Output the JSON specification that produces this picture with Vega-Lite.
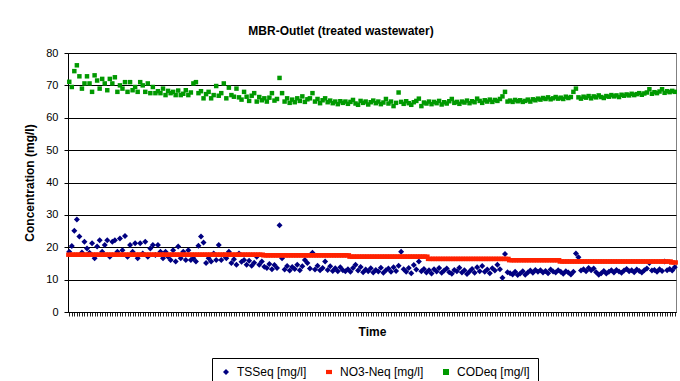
{
"$schema": "https://vega.github.io/schema/vega-lite/v6.json",
"width": 608, "height": 259,
"autosize": {"type": "none"},
"padding": {"left": 68, "top": 53, "right": 4, "bottom": 69},
"background": "white",
"config": {"font": "Liberation Sans", "view": {"stroke": "#808080", "strokeWidth": 1}},
"title": {"text": "MBR-Outlet (treated wastewater)", "fontSize": 12, "font": "Liberation Sans", "fontWeight": "bold", "anchor": "middle", "frame": "group", "dx": -31, "offset": 9, "color": "black"},
"data": {"values": [
{"t":0,"a":18.6,"b":17.7,"c":71.1},{"t":1,"a":20.4,"b":17.7,"c":69.5},{"t":2,"a":25.1,"b":17.7,"c":74.4},{"t":3,"a":28.6,"b":17.7,"c":76.2},{"t":4,"a":23.3,"b":17.7,"c":72.8},{"t":5,"a":18.4,"b":17.7,"c":69.0},{"t":6,"a":21.7,"b":17.7,"c":70.6},{"t":7,"a":19.6,"b":17.7,"c":72.8},{"t":8,"a":18.3,"b":17.7,"c":70.6},{"t":9,"a":21.2,"b":17.7,"c":68.0},
{"t":10,"a":16.6,"b":17.7,"c":73.1},{"t":11,"a":20.2,"b":17.7,"c":71.5},{"t":12,"a":22.2,"b":17.7,"c":69.0},{"t":13,"a":18.6,"b":17.7,"c":72.0},{"t":14,"a":20.7,"b":17.7,"c":70.6},{"t":15,"a":22.2,"b":17.7,"c":68.5},{"t":16,"a":17.1,"b":17.7,"c":72.0},{"t":17,"a":21.7,"b":17.7,"c":70.6},{"t":18,"a":22.2,"b":17.7,"c":72.5},{"t":19,"a":18.6,"b":17.7,"c":68.0},
{"t":20,"a":22.7,"b":17.7,"c":70.0},{"t":21,"a":19.1,"b":17.7,"c":69.0},{"t":22,"a":23.5,"b":17.7,"c":71.0},{"t":23,"a":17.1,"b":17.7,"c":68.0},{"t":24,"a":20.7,"b":17.7,"c":71.0},{"t":25,"a":18.6,"b":17.7,"c":68.5},{"t":26,"a":21.2,"b":17.7,"c":69.5},{"t":27,"a":16.6,"b":17.7,"c":68.0},{"t":28,"a":21.2,"b":17.7,"c":71.0},{"t":29,"a":18.1,"b":17.7,"c":70.0},
{"t":30,"a":21.7,"b":17.7,"c":68.0},{"t":31,"a":17.1,"b":17.7,"c":70.6},{"t":32,"a":19.6,"b":17.7,"c":67.6},{"t":33,"a":20.7,"b":17.7,"c":69.5},{"t":34,"a":17.6,"b":17.7,"c":67.6},{"t":35,"a":20.7,"b":17.7,"c":68.2},{"t":36,"a":18.6,"b":17.7,"c":67.6},{"t":37,"a":16.6,"b":17.7,"c":69.0},{"t":38,"a":18.6,"b":17.7,"c":67.0},{"t":39,"a":17.1,"b":17.7,"c":68.3},
{"t":40,"a":16.1,"b":17.7,"c":67.6},{"t":41,"a":19.1,"b":17.7,"c":68.0},{"t":42,"a":15.6,"b":17.7,"c":67.0},{"t":43,"a":20.2,"b":17.7,"c":68.4},{"t":44,"a":16.6,"b":17.7,"c":67.0},{"t":45,"a":18.6,"b":17.7,"c":67.4},{"t":46,"a":16.1,"b":17.7,"c":68.5},{"t":47,"a":19.1,"b":17.7,"c":67.0},{"t":48,"a":16.1,"b":17.7,"c":67.8},{"t":49,"a":16.6,"b":17.7,"c":70.6},
{"t":50,"a":15.6,"b":17.7,"c":71.0},{"t":51,"a":20.5,"b":17.7,"c":67.6},{"t":52,"a":23.3,"b":17.7,"c":68.2},{"t":53,"a":21.5,"b":17.7,"c":66.0},{"t":54,"a":15.1,"b":17.7,"c":67.3},{"t":55,"a":16.6,"b":17.7,"c":68.0},{"t":56,"a":15.6,"b":17.7,"c":66.0},{"t":57,"a":18.1,"b":17.7,"c":67.0},{"t":58,"a":16.1,"b":17.7,"c":69.8},{"t":59,"a":20.7,"b":17.7,"c":66.8},
{"t":60,"a":16.1,"b":17.7,"c":67.6},{"t":61,"a":17.5,"b":17.7,"c":70.6},{"t":62,"a":16.6,"b":17.7,"c":66.0},{"t":63,"a":18.6,"b":17.7,"c":69.3},{"t":64,"a":15.1,"b":17.7,"c":67.0},{"t":65,"a":16.3,"b":17.7,"c":66.5},{"t":66,"a":14.6,"b":17.7,"c":69.0},{"t":67,"a":18.1,"b":17.7,"c":66.3},{"t":68,"a":15.5,"b":17.7,"c":65.6},{"t":69,"a":16.1,"b":17.7,"c":68.0},
{"t":70,"a":14.6,"b":17.7,"c":66.5},{"t":71,"a":15.8,"b":17.7,"c":65.2},{"t":72,"a":14.3,"b":17.7,"c":66.8},{"t":73,"a":15.2,"b":17.7,"c":67.6},{"t":74,"a":17.1,"b":17.7,"c":65.0},{"t":75,"a":14.6,"b":17.7,"c":66.4},{"t":76,"a":15.6,"b":17.7,"c":65.4},{"t":77,"a":14.0,"b":17.5,"c":66.0},{"t":78,"a":13.6,"b":17.5,"c":65.0},{"t":79,"a":14.8,"b":17.5,"c":66.2},
{"t":80,"a":13.2,"b":17.5,"c":67.6},{"t":81,"a":14.5,"b":17.5,"c":65.3},{"t":82,"a":13.6,"b":17.5,"c":65.8},{"t":83,"a":26.8,"b":17.5,"c":72.3},{"t":84,"a":16.6,"b":17.5,"c":67.6},{"t":85,"a":13.1,"b":17.5,"c":65.0},{"t":86,"a":14.2,"b":17.5,"c":66.0},{"t":87,"a":12.8,"b":17.5,"c":64.6},{"t":88,"a":13.9,"b":17.5,"c":65.6},{"t":89,"a":13.3,"b":17.5,"c":64.8},
{"t":90,"a":14.6,"b":17.5,"c":66.0},{"t":91,"a":12.9,"b":17.5,"c":65.2},{"t":92,"a":14.1,"b":17.5,"c":66.6},{"t":93,"a":16.1,"b":17.5,"c":64.9},{"t":94,"a":15.1,"b":17.5,"c":65.7},{"t":95,"a":13.4,"b":17.5,"c":66.0},{"t":96,"a":18.3,"b":17.5,"c":67.6},{"t":97,"a":13.1,"b":17.5,"c":65.0},{"t":98,"a":14.3,"b":17.5,"c":65.8},{"t":99,"a":12.9,"b":17.5,"c":64.5},
{"t":100,"a":13.6,"b":17.5,"c":65.4},{"t":101,"a":15.6,"b":17.5,"c":66.0},{"t":102,"a":13.0,"b":17.5,"c":64.8},{"t":103,"a":14.1,"b":17.5,"c":65.3},{"t":104,"a":12.7,"b":17.5,"c":64.5},{"t":105,"a":13.5,"b":17.5,"c":65.0},{"t":106,"a":12.6,"b":17.5,"c":64.2},{"t":107,"a":13.8,"b":17.5,"c":65.1},{"t":108,"a":12.9,"b":17.5,"c":64.6},{"t":109,"a":12.6,"b":17.5,"c":65.0},
{"t":110,"a":13.2,"b":17.5,"c":64.3},{"t":111,"a":12.4,"b":17.1,"c":64.9},{"t":112,"a":13.6,"b":17.1,"c":65.5},{"t":113,"a":14.6,"b":17.1,"c":64.4},{"t":114,"a":12.8,"b":17.1,"c":64.0},{"t":115,"a":13.9,"b":17.1,"c":65.2},{"t":116,"a":12.3,"b":17.1,"c":64.6},{"t":117,"a":13.1,"b":17.1,"c":65.0},{"t":118,"a":12.6,"b":17.1,"c":64.1},{"t":119,"a":13.5,"b":17.1,"c":64.8},
{"t":120,"a":12.2,"b":17.1,"c":65.3},{"t":121,"a":13.0,"b":17.1,"c":64.5},{"t":122,"a":12.5,"b":17.1,"c":65.0},{"t":123,"a":13.7,"b":17.1,"c":64.2},{"t":124,"a":12.1,"b":17.1,"c":64.7},{"t":125,"a":12.9,"b":17.1,"c":65.8},{"t":126,"a":13.4,"b":17.1,"c":64.4},{"t":127,"a":12.4,"b":17.1,"c":65.0},{"t":128,"a":13.8,"b":17.1,"c":63.6},{"t":129,"a":12.7,"b":17.1,"c":64.6},
{"t":130,"a":14.3,"b":17.1,"c":67.8},{"t":131,"a":18.6,"b":17.1,"c":64.9},{"t":132,"a":13.2,"b":17.1,"c":64.3},{"t":133,"a":12.4,"b":17.1,"c":65.1},{"t":134,"a":13.6,"b":17.1,"c":64.5},{"t":135,"a":12.0,"b":17.1,"c":64.0},{"t":136,"a":14.5,"b":17.1,"c":64.8},{"t":137,"a":13.1,"b":17.1,"c":65.2},{"t":138,"a":15.6,"b":17.1,"c":65.9},{"t":139,"a":12.6,"b":17.1,"c":63.6},
{"t":140,"a":13.3,"b":17.1,"c":64.7},{"t":141,"a":12.2,"b":17.1,"c":64.4},{"t":142,"a":12.9,"b":16.4,"c":65.0},{"t":143,"a":11.9,"b":16.4,"c":64.2},{"t":144,"a":13.2,"b":16.4,"c":64.9},{"t":145,"a":12.5,"b":16.4,"c":64.5},{"t":146,"a":13.6,"b":16.4,"c":65.2},{"t":147,"a":12.1,"b":16.4,"c":64.1},{"t":148,"a":12.8,"b":16.4,"c":64.8},{"t":149,"a":13.4,"b":16.4,"c":64.4},
{"t":150,"a":12.3,"b":16.4,"c":65.1},{"t":151,"a":11.8,"b":16.4,"c":65.8},{"t":152,"a":13.0,"b":16.4,"c":64.6},{"t":153,"a":12.6,"b":16.4,"c":64.9},{"t":154,"a":13.7,"b":16.4,"c":64.3},{"t":155,"a":12.2,"b":16.4,"c":65.0},{"t":156,"a":12.9,"b":16.4,"c":64.7},{"t":157,"a":11.7,"b":16.4,"c":65.3},{"t":158,"a":12.5,"b":16.4,"c":64.5},{"t":159,"a":13.3,"b":16.4,"c":65.1},
{"t":160,"a":12.1,"b":16.4,"c":64.8},{"t":161,"a":13.8,"b":16.4,"c":65.9},{"t":162,"a":12.6,"b":16.4,"c":65.2},{"t":163,"a":14.2,"b":16.4,"c":64.6},{"t":164,"a":12.4,"b":16.4,"c":65.4},{"t":165,"a":13.1,"b":16.4,"c":65.0},{"t":166,"a":12.0,"b":16.4,"c":65.6},{"t":167,"a":13.5,"b":16.4,"c":64.9},{"t":168,"a":12.8,"b":16.4,"c":65.5},{"t":169,"a":14.6,"b":16.4,"c":65.2},
{"t":170,"a":13.2,"b":16.4,"c":65.8},{"t":171,"a":10.6,"b":16.4,"c":66.6},{"t":172,"a":17.9,"b":16.4,"c":68.0},{"t":173,"a":12.3,"b":16.4,"c":65.0},{"t":174,"a":12.0,"b":16.0,"c":65.3},{"t":175,"a":11.6,"b":16.0,"c":64.9},{"t":176,"a":12.4,"b":16.0,"c":65.5},{"t":177,"a":11.4,"b":16.0,"c":65.1},{"t":178,"a":11.9,"b":16.0,"c":65.4},{"t":179,"a":12.6,"b":16.0,"c":64.9},
{"t":180,"a":11.5,"b":16.0,"c":65.2},{"t":181,"a":12.2,"b":16.0,"c":65.6},{"t":182,"a":12.8,"b":16.0,"c":65.0},{"t":183,"a":12.1,"b":16.0,"c":65.7},{"t":184,"a":13.0,"b":16.0,"c":65.4},{"t":185,"a":12.4,"b":16.0,"c":65.9},{"t":186,"a":12.9,"b":16.0,"c":65.6},{"t":187,"a":12.2,"b":16.0,"c":66.1},{"t":188,"a":12.7,"b":16.0,"c":65.8},{"t":189,"a":12.0,"b":16.0,"c":66.3},
{"t":190,"a":13.1,"b":16.0,"c":65.7},{"t":191,"a":12.5,"b":16.0,"c":66.0},{"t":192,"a":12.2,"b":16.0,"c":66.4},{"t":193,"a":12.9,"b":16.0,"c":65.9},{"t":194,"a":12.4,"b":15.6,"c":66.2},{"t":195,"a":11.8,"b":15.6,"c":65.8},{"t":196,"a":12.6,"b":15.6,"c":66.5},{"t":197,"a":12.2,"b":15.6,"c":66.1},{"t":198,"a":11.6,"b":15.6,"c":66.4},{"t":199,"a":12.4,"b":15.6,"c":68.0},
{"t":200,"a":18.1,"b":15.6,"c":69.0},{"t":201,"a":16.9,"b":15.6,"c":66.3},{"t":202,"a":12.8,"b":15.6,"c":65.9},{"t":203,"a":13.2,"b":15.6,"c":66.5},{"t":204,"a":12.6,"b":15.6,"c":66.2},{"t":205,"a":13.6,"b":15.6,"c":66.7},{"t":206,"a":12.9,"b":15.6,"c":66.0},{"t":207,"a":13.4,"b":15.6,"c":66.6},{"t":208,"a":12.3,"b":15.6,"c":66.3},{"t":209,"a":11.5,"b":15.6,"c":66.9},
{"t":210,"a":12.0,"b":15.6,"c":66.4},{"t":211,"a":12.7,"b":15.6,"c":66.1},{"t":212,"a":11.9,"b":15.6,"c":66.7},{"t":213,"a":12.4,"b":15.6,"c":66.5},{"t":214,"a":12.9,"b":15.6,"c":67.0},{"t":215,"a":12.2,"b":15.6,"c":66.6},{"t":216,"a":13.0,"b":15.6,"c":66.9},{"t":217,"a":12.5,"b":15.6,"c":66.4},{"t":218,"a":12.1,"b":15.6,"c":67.1},{"t":219,"a":12.8,"b":15.6,"c":66.8},
{"t":220,"a":13.3,"b":15.6,"c":67.2},{"t":221,"a":12.6,"b":15.6,"c":66.9},{"t":222,"a":12.9,"b":15.6,"c":67.4},{"t":223,"a":12.3,"b":15.6,"c":67.0},{"t":224,"a":13.1,"b":15.6,"c":67.3},{"t":225,"a":12.7,"b":15.6,"c":67.6},{"t":226,"a":12.2,"b":15.6,"c":67.1},{"t":227,"a":12.9,"b":15.6,"c":67.5},{"t":228,"a":13.4,"b":15.6,"c":67.8},{"t":229,"a":15.1,"b":15.6,"c":68.8},
{"t":230,"a":12.8,"b":15.6,"c":67.4},{"t":231,"a":13.0,"b":15.6,"c":67.9},{"t":232,"a":12.4,"b":15.6,"c":67.6},{"t":233,"a":13.2,"b":15.6,"c":68.1},{"t":234,"a":12.7,"b":15.6,"c":68.8},{"t":235,"a":15.6,"b":15.6,"c":67.7},{"t":236,"a":12.9,"b":15.6,"c":68.2},{"t":237,"a":13.3,"b":15.6,"c":67.9},{"t":238,"a":12.8,"b":15.3,"c":68.3},{"t":239,"a":13.8,"b":15.3,"c":68.0}
]},
"encoding": {
  "x": {"field": "t", "type": "quantitative",
    "scale": {"domain": [-0.5, 239.5], "nice": false, "zero": false},
    "axis": {"labels": false, "grid": false, "tickCount": 240, "tickSize": 4, "tickColor": "#222", "domainColor": "black", "title": "Time", "titleFontSize": 12, "titleFontWeight": "bold", "titlePadding": 10, "titleColor": "black", "titleFont": "Liberation Sans"}}
},
"layer": [
  {"mark": {"type": "point", "filled": true, "size": 36, "opacity": 1},
   "encoding": {
     "y": {"field": "a", "type": "quantitative", "scale": {"domain": [0, 80], "nice": false},
       "axis": {"values": [0,10,20,30,40,50,60,70,80], "grid": true, "gridColor": "black", "gridOpacity": 1, "domainColor": "black", "tickColor": "black", "tickSize": 4, "labelFontSize": 11, "labelColor": "black", "labelPadding": 6, "labelFont": "Liberation Sans", "title": "Concentration (mg/l)", "titleFontSize": 12, "titleFontWeight": "bold", "titlePadding": 9, "titleColor": "black", "titleFont": "Liberation Sans"}},
     "color": {"datum": "TSSeq [mg/l]",
       "scale": {"domain": ["TSSeq [mg/l]", "NO3-Neq [mg/l]", "CODeq [mg/l]"], "range": ["#000080", "#ff2200", "#009900"]},
       "legend": {"title": null, "orient": "none", "legendX": 144, "legendY": 305, "direction": "horizontal", "labelFontSize": 12, "labelFont": "Liberation Sans", "labelColor": "black", "strokeColor": "black", "padding": 8, "columnPadding": 16, "labelOffset": 5, "symbolSize": 36}},
     "shape": {"datum": "TSSeq [mg/l]",
       "scale": {"domain": ["TSSeq [mg/l]", "NO3-Neq [mg/l]", "CODeq [mg/l]"], "range": ["diamond", "M-1,-0.7H1V0.7H-1Z", "square"]}}
   }},
  {"mark": {"type": "point", "filled": true, "size": 40, "opacity": 1},
   "encoding": {
     "y": {"field": "b", "type": "quantitative", "scale": {"domain": [0, 80], "nice": false},
       "axis": {"values": [0,10,20,30,40,50,60,70,80], "grid": true, "gridColor": "black", "gridOpacity": 1, "domainColor": "black", "tickColor": "black", "tickSize": 4, "labelFontSize": 11, "labelColor": "black", "labelPadding": 6, "labelFont": "Liberation Sans", "title": "Concentration (mg/l)", "titleFontSize": 12, "titleFontWeight": "bold", "titlePadding": 9, "titleColor": "black", "titleFont": "Liberation Sans"}},
     "color": {"datum": "NO3-Neq [mg/l]"},
     "shape": {"datum": "NO3-Neq [mg/l]"}
   }},
  {"mark": {"type": "point", "filled": true, "size": 20, "opacity": 1},
   "encoding": {
     "y": {"field": "c", "type": "quantitative", "scale": {"domain": [0, 80], "nice": false},
       "axis": {"values": [0,10,20,30,40,50,60,70,80], "grid": true, "gridColor": "black", "gridOpacity": 1, "domainColor": "black", "tickColor": "black", "tickSize": 4, "labelFontSize": 11, "labelColor": "black", "labelPadding": 6, "labelFont": "Liberation Sans", "title": "Concentration (mg/l)", "titleFontSize": 12, "titleFontWeight": "bold", "titlePadding": 9, "titleColor": "black", "titleFont": "Liberation Sans"}},
     "color": {"datum": "CODeq [mg/l]"},
     "shape": {"datum": "CODeq [mg/l]"}
   }}
]
}
